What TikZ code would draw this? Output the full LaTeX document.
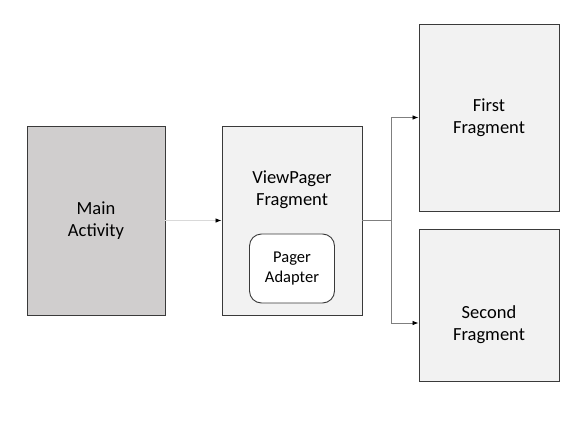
\documentclass[tikz,border=0pt]{standalone}
\usepackage{fontspec}
\setmainfont{Carlito}
\usepackage{xcolor}
\usepackage{tikz}
\usetikzlibrary{arrows.meta,positioning}
\definecolor{activityfill}{HTML}{D0CECE}
\definecolor{fragfill}{HTML}{F2F2F2}
\definecolor{boxedge}{HTML}{3A3A3A}
\definecolor{paleline}{HTML}{D9D9D9}
\definecolor{midline}{HTML}{7F7F7F}

\begin{document}
\begin{tikzpicture}[
  x=1pt, y=-1pt,
  block/.style={rectangle, draw=boxedge, line width=0.9pt, fill=fragfill, minimum width=140pt, minimum height=189pt, inner sep=0pt, align=center, font=\fontsize{18.5}{22}\selectfont},
  adapter/.style={rectangle, rounded corners=12pt, draw=boxedge, line width=0.9pt, fill=white, minimum width=85pt, minimum height=69pt, align=center, font=\fontsize{16.5}{19.5}\selectfont},
  caption/.style={align=center, font=\fontsize{18.5}{22}\selectfont},
  link/.style={paleline, line width=0.8pt, -{Latex[color=black, length=6pt, width=4.5pt]}},
  fork/.style={midline, line width=0.8pt, -{Latex[color=black, length=6pt, width=4.5pt]}}
]
\fill[white] (0,0) rectangle (580,444);
\useasboundingbox (0,0) rectangle (580,444);

\node[block, fill=activityfill, minimum width=138pt] (main) at (96,220.5) {Main\\Activity};
\node[block, right of=main, node distance=196pt] (vp) {};
\node[caption] (vptext) at ([yshift=-64pt]vp.north) {ViewPager\\Fragment};
\node[adapter] (adapter) at ([yshift=-48pt]vp.center) {Pager\\Adapter};

\node[block, minimum height=187pt, right of=vp, node distance=197pt, yshift=103pt] (first) {First\\Fragment};
\node[block, minimum height=152pt, right of=vp, node distance=197pt, yshift=-84.5pt] (second) {};
\node[caption] (secondtext) at ([yshift=-20pt]second.center) {Second\\Fragment};

\coordinate (split) at ([xshift=29pt]vp.east);
\coordinate (secondin) at ([yshift=-18pt]second.west);

\draw[link] (main) -- (vp);
\draw[midline, line width=0.8pt] (vp.east) -- (split);
\draw[fork] (split) |- (first.west);
\draw[fork] (split) |- (secondin);
\end{tikzpicture}
\end{document}
